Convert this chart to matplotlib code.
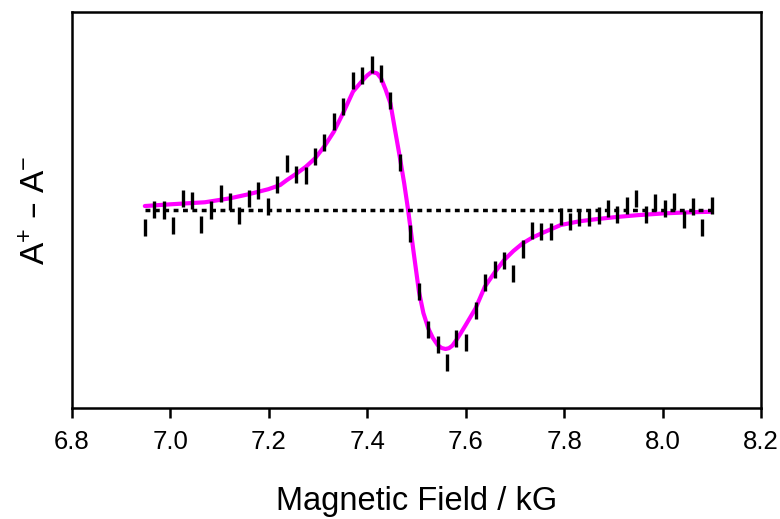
"""Dispersion-shaped A+ - A- signal versus magnetic field, with fitted curve."""

import matplotlib
matplotlib.use("Agg")
import matplotlib.pyplot as plt

plt.rcParams["font.family"] = ["Liberation Sans", "DejaVu Sans"]
plt.rcParams["mathtext.default"] = "regular"

# measured points (kG, arbitrary units) and their half error bar
field = [6.948, 6.967, 6.987, 7.006, 7.025, 7.044, 7.063, 7.082, 7.102, 7.121,
         7.140, 7.160, 7.178, 7.198, 7.217, 7.236, 7.255, 7.275, 7.294, 7.313,
         7.332, 7.351, 7.371, 7.390, 7.409, 7.428, 7.447, 7.466, 7.486, 7.505,
         7.524, 7.543, 7.562, 7.581, 7.600, 7.620, 7.639, 7.659, 7.678, 7.697,
         7.716, 7.735, 7.754, 7.773, 7.793, 7.812, 7.831, 7.851, 7.870, 7.889,
         7.908, 7.927, 7.947, 7.966, 7.985, 8.004, 8.024, 8.043, 8.062, 8.081,
         8.100]
signal = [-0.086, 0.002, 0.000, -0.079, 0.056, 0.047, -0.074, 0.000, 0.085, 0.045,
          -0.029, 0.056, 0.096, 0.019, 0.130, 0.236, 0.177, 0.175, 0.268, 0.342,
          0.446, 0.522, 0.653, 0.678, 0.736, 0.688, 0.551, 0.242, -0.120, -0.411,
          -0.605, -0.677, -0.768, -0.648, -0.670, -0.507, -0.366, -0.299, -0.255, -0.322,
          -0.197, -0.102, -0.108, -0.108, -0.032, -0.057, -0.040, -0.036, -0.027, 0.007,
          -0.025, 0.022, 0.059, -0.025, 0.039, 0.009, 0.044, -0.048, 0.017, -0.088,
          0.022]
signal_err = 0.043

# fitted curve
fit_field = [6.948, 7.002, 7.070, 7.121, 7.158, 7.199, 7.223, 7.236, 7.255, 7.275,
             7.294, 7.313, 7.332, 7.351, 7.371, 7.390, 7.400, 7.409, 7.420, 7.428,
             7.437, 7.447, 7.456, 7.466, 7.475, 7.483, 7.494, 7.505, 7.514, 7.524,
             7.533, 7.543, 7.551, 7.559, 7.566, 7.573, 7.581, 7.590, 7.600, 7.620,
             7.639, 7.659, 7.678, 7.697, 7.716, 7.735, 7.754, 7.793, 7.831, 7.870,
             7.908, 7.950, 8.004, 8.050, 8.100]
fit_signal = [0.020, 0.029, 0.039, 0.059, 0.079, 0.105, 0.126, 0.150, 0.182, 0.218,
              0.261, 0.322, 0.395, 0.490, 0.598, 0.653, 0.680, 0.697, 0.690, 0.665,
              0.610, 0.539, 0.410, 0.269, 0.135, 0.000, -0.210, -0.412, -0.520, -0.598,
              -0.645, -0.682, -0.697, -0.702, -0.698, -0.685, -0.657, -0.622, -0.581, -0.497,
              -0.387, -0.315, -0.253, -0.207, -0.168, -0.140, -0.118, -0.076, -0.057, -0.045,
              -0.035, -0.026, -0.017, -0.012, -0.009]

fig = plt.figure(figsize=(7.8, 5.19), dpi=100)
ax = fig.add_axes([0.0923, 0.2139, 0.8833, 0.7630])

ax.plot(fit_field, fit_signal, color="#ff00ff", linewidth=3.0, solid_capstyle="round",
        solid_joinstyle="round", zorder=2)
ax.plot([field[0], field[-1]], [0, 0], color="black", linewidth=2.5,
        linestyle=(0, (1.4, 1.3)), zorder=3)
ax.errorbar(field, signal, yerr=signal_err, fmt="none", ecolor="black",
            elinewidth=2.4, capsize=0, zorder=4)

ax.set_xlim(6.8, 8.2)
ax.set_ylim(-1, 1)
ax.set_xticks([6.8, 7.0, 7.2, 7.4, 7.6, 7.8, 8.0, 8.2])
ax.set_xticklabels(["6.8", "7.0", "7.2", "7.4", "7.6", "7.8", "8.0", "8.2"])
ax.set_yticks([])

for side in ax.spines.values():
    side.set_linewidth(1.8)
ax.tick_params(axis="x", direction="out", length=7, width=1.8, labelsize=18.5, pad=9)

ax.set_xlabel("Magnetic Field / kG", fontsize=23.5, labelpad=23)
ax.set_ylabel("A$^{+}$ – A$^{-}$", fontsize=24, labelpad=14)

fig.savefig("out.png", dpi=100)
